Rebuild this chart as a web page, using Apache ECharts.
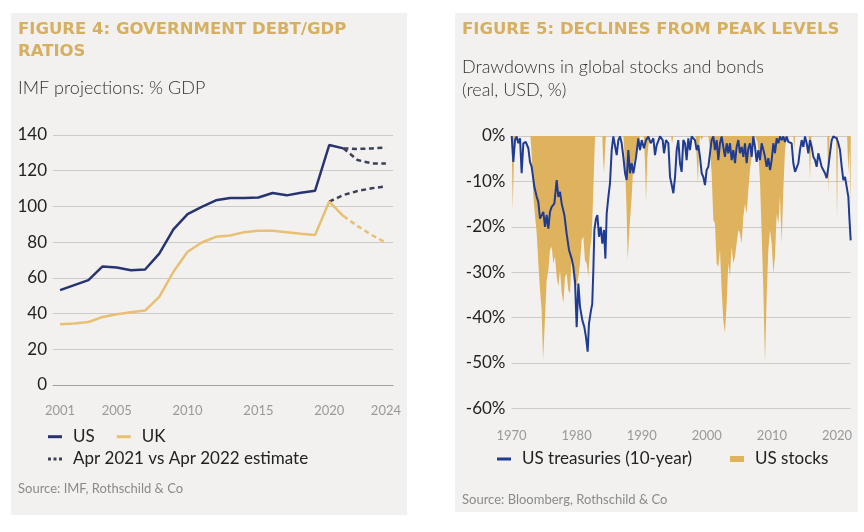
<!DOCTYPE html>
<html>
<head>
<meta charset="utf-8">
<title>Debt ratios and drawdowns</title>
<script src="https://cdn.jsdelivr.net/npm/echarts@6.0.0/dist/echarts.min.js"></script>
<style>
  html, body { margin: 0; padding: 0; background: #fff; }
  #main { width: 864px; height: 532px; }
</style>
</head>
<body>
<div id="main"></div>
<script>
// Figure 4: government debt / GDP (IMF, % GDP)
var debtYears = [2001, 2002, 2003, 2004, 2005, 2006, 2007, 2008, 2009, 2010, 2011, 2012,
                 2013, 2014, 2015, 2016, 2017, 2018, 2019, 2020, 2021, 2022, 2023, 2024];
var debtTickLabels = ['2001', '2005', '2010', '2015', '2020', '2024'];
// actuals 2001-2021
var usDebt = [53.1, 55.9, 58.7, 66.4, 65.8, 64.3, 64.7, 73.6, 87.1, 95.7, 99.8, 103.4,
              104.7, 104.7, 105.0, 107.5, 106.2, 107.7, 108.8, 134.4, 132.5];
var ukDebt = [34.0, 34.4, 35.3, 38.1, 39.6, 40.7, 41.7, 49.3, 63.4, 74.6, 79.8, 83.0,
              83.7, 85.6, 86.4, 86.4, 85.6, 84.7, 84.0, 102.7, 94.6];
// estimates
var usEstApr21 = [132.5, 132.2, 132.5, 133.0];        // 2021-2024
var usEstApr22 = [132.5, 126.0, 124.1, 124.0];        // 2021-2024
var ukEstApr21 = [102.7, 106.4, 108.6, 110.2, 111.2]; // 2020-2024
var ukEstApr22 = [94.6, 89.0, 84.0, 79.7];            // 2021-2024

// Figure 5: drawdowns from peak (real, USD, %)
var tsyYears = [1970.03, 1970.28, 1970.54, 1970.79, 1971.05, 1971.31, 1971.56, 1971.82, 1972.18, 1972.59,
  1972.84, 1973.10, 1973.51, 1973.87, 1974.12, 1974.38, 1974.63, 1974.89, 1975.15, 1975.40,
  1975.66, 1975.91, 1976.17, 1976.58, 1976.94, 1977.19, 1977.45, 1977.71, 1978.12, 1978.47,
  1978.83, 1979.24, 1979.50, 1979.75, 1980.01, 1980.27, 1980.52, 1980.88, 1981.19, 1981.44,
  1981.70, 1981.90, 1982.21, 1982.40, 1982.57, 1982.73, 1982.98, 1983.19, 1983.44, 1983.70,
  1983.95, 1984.21, 1984.42, 1984.62, 1984.88, 1985.13, 1985.39, 1985.64, 1985.90, 1986.16,
  1986.41, 1986.67, 1986.92, 1987.18, 1987.44, 1987.69, 1987.95, 1988.20, 1988.46, 1988.72,
  1989.13, 1989.48, 1989.74, 1990.00, 1990.35, 1990.66, 1991.02, 1991.38, 1991.79, 1992.04,
  1992.30, 1992.81, 1993.22, 1993.43, 1993.73, 1994.09, 1994.35, 1994.61, 1994.86, 1995.12,
  1995.37, 1995.62, 1995.88, 1996.13, 1996.39, 1996.65, 1996.90, 1997.16, 1997.41, 1997.67,
  1997.93, 1998.18, 1998.44, 1998.69, 1998.95, 1999.21, 1999.46, 1999.72, 1999.97, 2000.23,
  2000.49, 2000.74, 2001.00, 2001.25, 2001.51, 2001.77, 2002.02, 2002.28, 2002.53, 2002.79,
  2003.05, 2003.30, 2003.56, 2003.81, 2004.07, 2004.33, 2004.58, 2004.84, 2005.09, 2005.35,
  2005.61, 2005.86, 2006.12, 2006.38, 2006.63, 2006.89, 2007.14, 2007.40, 2007.65, 2007.91,
  2008.17, 2008.42, 2008.68, 2008.94, 2009.19, 2009.45, 2009.71, 2009.96, 2010.22, 2010.47,
  2010.73, 2010.99, 2011.24, 2011.50, 2011.75, 2012.01, 2012.27, 2012.52, 2012.78, 2013.03,
  2013.29, 2013.55, 2013.80, 2014.06, 2014.31, 2014.57, 2014.83, 2015.08, 2015.34, 2015.59,
  2015.85, 2016.11, 2016.36, 2016.62, 2016.87, 2017.13, 2017.39, 2017.64, 2017.90, 2018.15,
  2018.41, 2018.67, 2018.92, 2019.18, 2019.43, 2019.69, 2019.95, 2020.20, 2020.46, 2020.72,
  2020.97, 2021.23, 2021.48, 2021.74, 2021.89, 2022.10];
var tsyDrawdown = [0, -5.7, -0.9, -0.1, -1.6, -0.5, -8.2, -1.6, -1.3, -2.7,
  -5.7, -6.8, -11.2, -13.4, -14.5, -18.2, -18.5, -16.7, -20.0, -17.4,
  -20.4, -16.7, -15.6, -14.9, -9.7, -13.4, -12.3, -14.9, -17.4, -21.5,
  -25.1, -27.0, -28.8, -31.8, -42.1, -32.5, -37.6, -40.6, -42.1, -44.3,
  -47.5, -41.3, -38.4, -37.0, -29.6, -20.7, -18.2, -17.4, -22.2, -20.0,
  -23.7, -20.7, -27.0, -17.1, -13.4, -10.4, -3.1, -0.1, -0.5, -4.2,
  -0.9, -0.1, -1.6, -4.6, -8.2, -9.7, -3.1, -8.2, -6.0, -8.2,
  -4.6, -0.5, -3.1, -0.9, -2.7, -0.9, -0.1, -1.6, -0.5, -4.2,
  -2.0, -0.1, -0.9, -3.8, -0.9, -1.6, -9.0, -10.8, -12.6, -9.0,
  -3.1, -0.9, -6.0, -7.9, -0.9, -1.6, -5.3, -0.5, -3.1, -0.1,
  -0.1, -0.9, -3.1, -2.0, -4.6, -8.2, -9.0, -10.8, -7.5, -6.8,
  -3.8, -0.9, -0.1, -3.1, -0.9, -5.3, -1.6, -0.1, -2.4, -4.6,
  -1.6, -3.8, -1.6, -5.3, -3.1, -6.0, -2.4, -0.9, -3.8, -2.4,
  -4.6, -1.6, -6.0, -2.7, -1.6, -4.6, -0.1, -2.4, -5.7, -3.1,
  -5.3, -1.6, -3.0, -4.6, -6.8, -4.9, -7.5, -5.3, -1.6, -3.8,
  -0.5, -1.6, -0.1, -0.9, -0.1, -1.3, -0.1, -1.3, -0.9, -1.6,
  -6.0, -7.9, -8.2, -6.0, -3.1, -0.9, -2.4, -0.1, -1.6, -3.8,
  -0.9, -2.4, -4.6, -5.3, -6.8, -3.8, -5.3, -6.8, -7.5, -8.2,
  -9.3, -6.8, -3.8, -0.9, -0.1, -0.1, -0.5, -1.6, -3.1, -6.8,
  -9.7, -9.0, -11.2, -13.4, -17.8, -23.0];

var stkYears = [1970.00, 1970.20, 1970.40, 1970.60, 1972.90, 1973.10, 1973.35, 1973.87, 1974.12, 1974.38,
  1974.63, 1974.85, 1975.15, 1975.40, 1975.66, 1975.91, 1976.17, 1976.43, 1976.68, 1976.94,
  1977.19, 1977.45, 1977.71, 1977.96, 1978.22, 1978.47, 1978.73, 1978.99, 1979.24, 1979.50,
  1979.75, 1980.01, 1980.27, 1980.52, 1980.78, 1981.03, 1981.29, 1981.55, 1981.80, 1982.06,
  1982.32, 1982.57, 1982.83, 1983.95, 1984.05, 1984.21, 1984.40, 1984.52, 1987.18, 1987.44,
  1987.69, 1987.85, 1988.10, 1988.46, 1988.72, 1989.23, 1989.74, 1990.30, 1990.51, 1990.66,
  1990.87, 1991.17, 1994.50, 1994.66, 1994.86, 1998.28, 1998.49, 1998.64, 1998.80, 1998.95,
  1999.21, 1999.46, 2000.23, 2000.49, 2000.74, 2001.00, 2001.25, 2001.51, 2001.77, 2002.02,
  2002.28, 2002.53, 2002.79, 2003.05, 2003.30, 2003.56, 2003.81, 2004.07, 2004.33, 2004.58,
  2004.84, 2005.09, 2005.35, 2005.61, 2005.86, 2006.12, 2006.38, 2006.63, 2006.89, 2007.14,
  2007.40, 2007.81, 2008.17, 2008.43, 2008.68, 2008.94, 2009.19, 2009.45, 2009.71, 2009.96,
  2010.22, 2010.47, 2010.73, 2010.99, 2011.24, 2011.50, 2011.75, 2012.01, 2012.27, 2013.29,
  2013.45, 2013.55, 2015.65, 2015.85, 2016.05, 2018.50, 2018.67, 2018.85, 2019.85, 2020.00,
  2020.15, 2021.55, 2021.74, 2021.90, 2022.10];
var stkDrawdown = [0, -16.3, -3.1, 0, 0, -4.0, -13.4, -21.5, -28.1, -34.0,
  -38.4, -49.4, -39.9, -31.8, -29.6, -25.1, -24.4, -28.1, -26.6, -31.0,
  -33.2, -29.6, -34.5, -36.9, -31.0, -30.3, -34.0, -34.7, -26.6, -32.5,
  -30.3, -33.2, -31.0, -28.1, -22.9, -22.2, -27.4, -28.1, -31.0, -25.0,
  -22.0, -12.0, 0, 0, -4.6, -8.2, -2.0, 0, 0, -6.0,
  -17.1, -27.4, -20.7, -13.4, -6.0, -3.1, 0, 0, -6.0, -14.5,
  -4.6, 0, 0, -1.6, 0, 0, -6.0, -10.4, -3.0, 0,
  -0.9, 0, 0, -3.1, -8.2, -18.5, -19.3, -28.1, -28.8, -25.1,
  -34.0, -40.6, -43.5, -36.9, -28.1, -31.0, -24.4, -28.1, -26.6, -23.7,
  -20.7, -21.5, -23.7, -17.8, -14.9, -17.1, -11.9, -7.5, -4.6, -0.9,
  0, -1.5, -10.0, -22.0, -34.0, -50.0, -35.4, -25.1, -20.7, -23.7,
  -30.3, -26.6, -17.1, -19.3, -13.4, -23.7, -11.9, -3.1, 0, 0,
  -3.1, 0, 0, -9.7, 0, 0, -12.6, 0, 0, -18.5,
  0, 0, -8.2, -3.0, -15.6];

var navy = '#283470';
var gold = '#e8c074';
var slate = '#3e4058';
var blue = '#1f3b92';
var areaGold = '#dfb35d';
var titleGold = '#d6b060';
var panelGrey = '#f2f1ef';
var gridGrey = '#cdcbc8';
var fontName = 'Lato';

function onYears(startYear, values) {
    return debtYears.map(function (y) {
        var i = y - startYear;
        return (i >= 0 && i < values.length) ? values[i] : null;
    });
}

function pairs(xs, ys) {
    return xs.map(function (x, i) { return [x, ys[i]]; });
}

var lineIcon = 'rect';
var dotIcon = 'path://M0,0h3v3h-3zM5.5,0h3v3h-3zM11,0h3v3h-3z';

var legendBase = {
    orient: 'horizontal',
    padding: 0,
    itemWidth: 14,
    itemHeight: 3,
    selectedMode: false,
    itemStyle: {borderWidth: 0},
    textStyle: {fontFamily: fontName, fontSize: 17, color: '#222', lineHeight: 20, padding: [0, 0, 0, 6]}
};

var myChart = echarts.init(document.getElementById('main'), null, {renderer: 'canvas'});

var option = {
    backgroundColor: '#fff',
    animation: false,
    graphic: [
        {type: 'rect', z: -10, shape: {x: 11, y: 13, width: 396, height: 502}, style: {fill: panelGrey}},
        {type: 'rect', z: -10, shape: {x: 455, y: 13, width: 403, height: 499}, style: {fill: panelGrey}}
    ],
    title: [{
        text: 'FIGURE 4: GOVERNMENT DEBT/GDP\nRATIOS',
        left: 18, top: 19, padding: 0,
        textStyle: {fontFamily: 'DejaVu Sans', fontWeight: 'bold', fontSize: 16.5, lineHeight: 22, color: titleGold}
    }, {
        text: 'IMF projections: % GDP',
        left: 18, top: 77, padding: 0,
        textStyle: {fontFamily: fontName, fontWeight: 300, fontSize: 18, lineHeight: 22, color: '#333'}
    }, {
        text: 'Source: IMF, Rothschild & Co',
        left: 18, top: 481, padding: 0,
        textStyle: {fontFamily: fontName, fontWeight: 'normal', fontSize: 13, lineHeight: 16, color: '#8a8a8a'}
    }, {
        text: 'FIGURE 5: DECLINES FROM PEAK LEVELS',
        left: 462, top: 19, padding: 0,
        textStyle: {fontFamily: 'DejaVu Sans', fontWeight: 'bold', fontSize: 16.5, lineHeight: 22, color: titleGold}
    }, {
        text: 'Drawdowns in global stocks and bonds\n(real, USD, %)',
        left: 462, top: 55.5, padding: 0,
        textStyle: {fontFamily: fontName, fontWeight: 300, fontSize: 18, lineHeight: 23, color: '#333'}
    }, {
        text: 'Source: Bloomberg, Rothschild & Co',
        left: 462, top: 492, padding: 0,
        textStyle: {fontFamily: fontName, fontWeight: 'normal', fontSize: 13, lineHeight: 16, color: '#8a8a8a'}
    }],
    legend: [
        Object.assign({}, legendBase, {
            left: 48, top: 426.7, itemGap: 22,
            data: [{name: 'US', icon: lineIcon}, {name: 'UK', icon: lineIcon}]
        }),
        Object.assign({}, legendBase, {
            left: 48, top: 449,
            data: [{name: 'Apr 2021 vs Apr 2022 estimate', icon: dotIcon}]
        }),
        Object.assign({}, legendBase, {
            left: 497, top: 449,
            data: [{name: 'US treasuries (10-year)', icon: lineIcon}]
        }),
        Object.assign({}, legendBase, {
            left: 730, top: 449, itemHeight: 6,
            data: [{name: 'US stocks', icon: 'rect'}]
        })
    ],
    grid: [
        {left: 53, top: 135, width: 340, height: 250},
        {left: 511.5, top: 136, width: 339.2, height: 272.4}
    ],
    xAxis: [{
        gridIndex: 0,
        type: 'category',
        data: debtYears.map(String),
        boundaryGap: true,
        axisLine: {show: true, lineStyle: {color: '#a3a19e', width: 1}},
        axisTick: {show: false},
        axisLabel: {
            margin: 19, fontFamily: fontName, fontSize: 13, color: '#999',
            interval: function (index, value) { return debtTickLabels.indexOf(value) >= 0; }
        },
        splitLine: {show: false}
    }, {
        gridIndex: 1,
        type: 'value',
        min: 1970, max: 2022.1, interval: 10,
        axisLine: {show: false},
        axisTick: {show: false},
        axisLabel: {
            margin: 21, fontFamily: fontName, fontSize: 13, color: '#999',
            formatter: function (v) { return v % 10 === 0 ? String(v) : ''; }
        },
        splitLine: {show: false}
    }],
    yAxis: [{
        gridIndex: 0,
        type: 'value',
        min: 0, max: 140, interval: 20,
        axisLine: {show: false},
        axisTick: {show: false},
        axisLabel: {margin: 6, fontFamily: fontName, fontSize: 17, color: '#222'},
        splitLine: {lineStyle: {color: gridGrey, width: 1}}
    }, {
        gridIndex: 1,
        type: 'value',
        min: -60, max: 0, interval: 10,
        axisLine: {show: false},
        axisTick: {show: false},
        axisLabel: {margin: 6, fontFamily: fontName, fontSize: 17, color: '#222', formatter: '{value}%'},
        splitLine: {lineStyle: {color: gridGrey, width: 1}}
    }],
    series: [{
        name: 'Apr 2021 vs Apr 2022 estimate',
        type: 'line', xAxisIndex: 0, yAxisIndex: 0,
        symbol: 'none', color: slate,
        lineStyle: {width: 2.5, type: [5, 3.5], color: slate},
        data: onYears(2021, usEstApr21)
    }, {
        name: 'Apr 2021 vs Apr 2022 estimate',
        type: 'line', xAxisIndex: 0, yAxisIndex: 0,
        symbol: 'none', color: slate,
        lineStyle: {width: 2.5, type: [5, 3.5], color: slate},
        data: onYears(2021, usEstApr22)
    }, {
        name: 'Apr 2021 vs Apr 2022 estimate',
        type: 'line', xAxisIndex: 0, yAxisIndex: 0,
        symbol: 'none', color: slate,
        lineStyle: {width: 2.5, type: [5, 3.5], color: slate},
        data: onYears(2020, ukEstApr21)
    }, {
        name: 'UK',
        type: 'line', xAxisIndex: 0, yAxisIndex: 0,
        symbol: 'none', color: gold,
        lineStyle: {width: 2.5, type: [5, 3.5], color: gold},
        data: onYears(2021, ukEstApr22)
    }, {
        name: 'US',
        type: 'line', xAxisIndex: 0, yAxisIndex: 0,
        symbol: 'none', color: navy,
        lineStyle: {width: 2.5, color: navy},
        data: onYears(2001, usDebt)
    }, {
        name: 'UK',
        type: 'line', xAxisIndex: 0, yAxisIndex: 0,
        symbol: 'none', color: gold,
        lineStyle: {width: 2.5, color: gold},
        data: onYears(2001, ukDebt)
    }, {
        name: 'US stocks',
        type: 'line', xAxisIndex: 1, yAxisIndex: 1,
        symbol: 'none', color: areaGold,
        lineStyle: {width: 0, color: areaGold},
        areaStyle: {color: areaGold, opacity: 1},
        data: pairs(stkYears, stkDrawdown)
    }, {
        name: 'US treasuries (10-year)',
        type: 'line', xAxisIndex: 1, yAxisIndex: 1,
        symbol: 'none', color: blue,
        lineStyle: {width: 2, color: blue},
        data: pairs(tsyYears, tsyDrawdown)
    }]
};

myChart.setOption(option);
</script>
</body>
</html>
